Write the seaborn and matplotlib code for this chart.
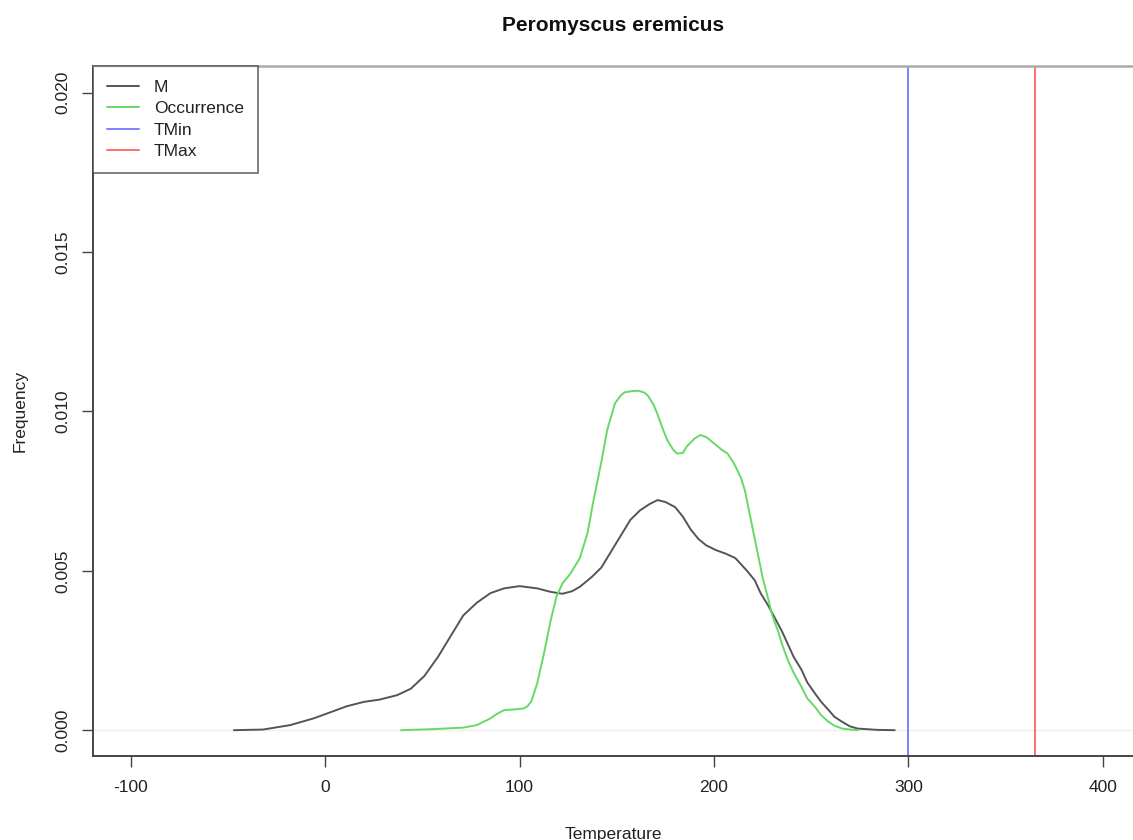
import numpy as np
import pandas as pd
import matplotlib
matplotlib.use("Agg")
import matplotlib.pyplot as plt
import seaborn as sns
from matplotlib.lines import Line2D

# ---- data ----
m_temp = [-47, -32, -18, -6, 3, 11, 20, 28, 37, 44, 51, 58, 64, 71, 78, 85, 92, 100,
          109, 116, 122, 127, 131, 137, 142, 147, 152, 157, 162, 167, 171, 175, 180,
          184, 188, 192, 196, 201, 206, 211, 214, 217, 221, 224, 228, 231, 235, 238,
          241, 245, 248, 252, 255, 259, 262, 266, 270, 274, 284, 293]
m_dens = [0.0, 0.00002, 0.00016, 0.00037, 0.00057, 0.00075, 0.00089, 0.00096, 0.0011,
          0.0013, 0.0017, 0.0023, 0.0029, 0.0036, 0.0040, 0.0043, 0.00445, 0.00452,
          0.00445, 0.00434, 0.00428, 0.00436, 0.0045, 0.0048, 0.0051, 0.0056, 0.0061,
          0.0066, 0.0069, 0.0071, 0.00722, 0.00716, 0.0070, 0.0067, 0.0063, 0.0060,
          0.0058, 0.00565, 0.00554, 0.0054, 0.0052, 0.0050, 0.0047, 0.0043, 0.0039,
          0.00356, 0.0031, 0.0027, 0.0023, 0.0019, 0.0015, 0.00115, 0.0009, 0.00063,
          0.00042, 0.00026, 0.00012, 0.00005, 0.00001, 0.0]

occ_temp = [39, 54, 71, 78, 81, 85, 88, 92, 97, 102, 104, 106, 109, 112.5, 116, 119,
            122, 126, 131, 135, 138, 142, 145, 149, 152, 154, 158, 161, 164, 166, 169,
            171, 174, 176, 179, 181, 184, 186, 190, 193, 196, 200, 204, 207, 210, 212,
            214, 216, 218, 220, 222.5, 225, 228, 230, 233, 235, 238, 241, 245, 248, 252,
            255, 259, 262, 266, 270, 274]
occ_dens = [0.0, 0.00003, 0.00008, 0.00016, 0.00025, 0.00037, 0.0005, 0.00063, 0.00065,
            0.00068, 0.00075, 0.0009, 0.00146, 0.0024, 0.00345, 0.0042, 0.0046, 0.0049,
            0.0054, 0.0062, 0.0072, 0.0084, 0.0094, 0.01025, 0.0105, 0.0106, 0.01064,
            0.01065, 0.0106, 0.0105, 0.0102, 0.0099, 0.0094, 0.0091, 0.0088, 0.00868,
            0.0087, 0.0089, 0.00915, 0.00926, 0.0092, 0.0090, 0.0088, 0.00868, 0.0084,
            0.00816, 0.0079, 0.0075, 0.0069, 0.0063, 0.00555, 0.0048, 0.0041, 0.0036,
            0.0031, 0.0027, 0.0022, 0.0018, 0.00136, 0.001, 0.00073, 0.00048, 0.00026,
            0.00014, 0.00005, 0.00002, 0.0]

tmin = 300
tmax = 365

legend_labels = ["M", "Occurrence", "TMin", "TMax"]
x_ticks = [-100, 0, 100, 200, 300, 400]
y_ticks = [0.000, 0.005, 0.010, 0.015, 0.020]
title = "Peromyscus eremicus"
xlabel = "Temperature"
ylabel = "Frequency"

# ---- styling ----
sns.set_theme(style="white")
plt.rcParams["font.family"] = ["Liberation Sans", "DejaVu Sans"]

c_m = "#555555"
c_occ = "#66d966"
c_min = "#8080ff"
c_max = "#ff6f6f"

fig = plt.figure(figsize=(11.33, 8.4), dpi=100)
ax = fig.add_axes([93 / 1133, 84 / 840, 1040 / 1133, 690 / 840])

ax.axhline(0, color="#eeeeee", lw=1.0, zorder=1)

df_m = pd.DataFrame({"Temperature": m_temp, "Frequency": m_dens})
df_o = pd.DataFrame({"Temperature": occ_temp, "Frequency": occ_dens})
sns.lineplot(data=df_m, x="Temperature", y="Frequency", color=c_m, lw=1.4, ax=ax)
sns.lineplot(data=df_o, x="Temperature", y="Frequency", color=c_occ, lw=1.4, ax=ax)
ax.axvline(tmin, color=c_min, lw=1.4)
ax.axvline(tmax, color=c_max, lw=1.4)

ax.set_xlim(-119.5, 415.6)
ax.set_ylim(-0.00081, 0.02084)
ax.set_xticks(x_ticks)
ax.set_xticklabels([str(v) for v in x_ticks])
ax.set_yticks(y_ticks)
ax.set_yticklabels([f"{v:.3f}" for v in y_ticks], rotation=90, va="center")

ax.tick_params(axis="both", direction="out", length=8, width=1.0, color="#444444",
               labelsize=12.5, labelcolor="#222222", bottom=True, left=True)
ax.tick_params(axis="x", pad=9)
ax.tick_params(axis="y", pad=8)

for s in ["left", "bottom"]:
    ax.spines[s].set_color("#444444")
    ax.spines[s].set_linewidth(1.4)
ax.spines["top"].set_color("#aaaaaa")
ax.spines["top"].set_linewidth(1.8)
ax.spines["right"].set_visible(False)

ax.set_xlabel(xlabel, fontsize=12.5, color="#222222", labelpad=23)
ax.set_ylabel(ylabel, fontsize=12.5, color="#222222", labelpad=20)
ax.set_title(title, fontsize=15, fontweight="bold", pad=25, color="#111111")

handles = [Line2D([], [], color=c, lw=1.4) for c in [c_m, c_occ, c_min, c_max]]
leg = ax.legend(handles, legend_labels, loc="upper left", bbox_to_anchor=(0, 1),
                borderaxespad=0, frameon=True, fancybox=False, fontsize=12.5,
                handlelength=1.85, handletextpad=0.85, labelspacing=0.36,
                borderpad=0.8)
leg.get_frame().set_edgecolor("#444444")
leg.get_frame().set_linewidth(1.2)
for t in leg.get_texts():
    t.set_color("#222222")

fig.savefig("out.png", dpi=100)
